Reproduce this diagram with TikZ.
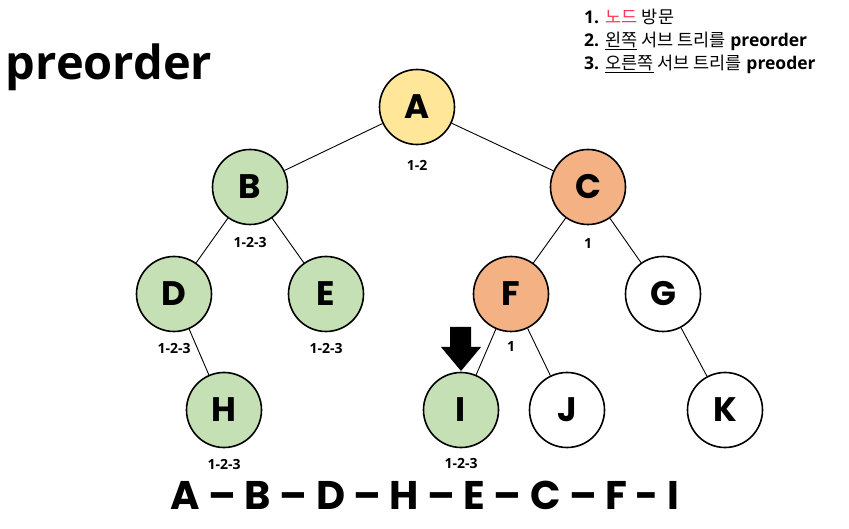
\documentclass[tikz,border=0pt]{standalone}
\usepackage{fontspec}
\setmainfont{Open Sans}
\newfontfamily\kr{Noto Sans CJK KR}
\newfontfamily\pop{Poppins}[UprightFont=* Bold]
\begin{document}
\begin{tikzpicture}[x=1pt,y=-1pt,
  tn/.style={circle,draw,line width=1.6pt,minimum size=75pt,inner sep=0pt,font=\pop\fontsize{34}{34}\selectfont},
  lb/.style={font=\bfseries\fontsize{14}{14}\selectfont},
  ed/.style={line width=0.9pt}]
\useasboundingbox (0,0) rectangle (849,529);
\definecolor{gy}{HTML}{FFE699}\definecolor{gg}{HTML}{C5E0B4}\definecolor{go}{HTML}{F4B183}
\node[tn,fill=gy] (A) at (417,107) {A};
\node[tn,fill=gg] (B) at (250,187) {B};
\node[tn,fill=go] (C) at (588,187) {C};
\node[tn,fill=gg] (D) at (174,294) {D};
\node[tn,fill=gg] (E) at (326,294) {E};
\node[tn,fill=go] (F) at (511,294) {F};
\node[tn,fill=white] (G) at (663,294) {G};
\node[tn,fill=gg] (H) at (224,410) {H};
\node[tn,fill=gg] (I) at (461,410) {I};
\node[tn,fill=white] (J) at (567,410) {J};
\node[tn,fill=white] (K) at (725,410) {K};
\foreach \a/\b in {A/B,A/C,B/D,B/E,D/H,C/F,C/G,F/I,F/J,G/K} \draw[ed] (\a) -- (\b);
\node[lb] (la) at (417,165) {1-2};
\node[lb] (lbb) at (250,243) {1-2-3};
\node[lb] (lc) at (588,244) {1};
\node[lb] (ld) at (174,348) {1-2-3};
\node[lb] (le) at (326,348) {1-2-3};
\node[lb] (lf) at (511,347) {1};
\node[lb] (lh) at (224,464) {1-2-3};
\node[lb] (li) at (461,463) {1-2-3};
\fill (450,327) -- (471,327) -- (471,347) -- (481,347) -- (461,371) -- (441,347) -- (450,347) -- cycle;
\node[font=\bfseries\fontsize{47}{47}\selectfont] (t) at (109,67) {preorder};
\node[font=\pop\fontsize{40}{40}\selectfont] (s) at (425,495) {A – B – D – H – E – C – F - I};
\node[anchor=north west,align=left,font=\fontsize{17.5}{23}\selectfont,inner sep=0pt] (lg) at (584,9)
{\textbf{1.} {\kr\color[HTML]{FF3355}노드} {\kr 방문}\\
\textbf{2.} {\kr\underline{왼쪽} 서브 트리를} \textbf{preorder}\\
\textbf{3.} {\kr\underline{오른쪽} 서브 트리를} \textbf{preoder}};
\end{tikzpicture}
\end{document}
